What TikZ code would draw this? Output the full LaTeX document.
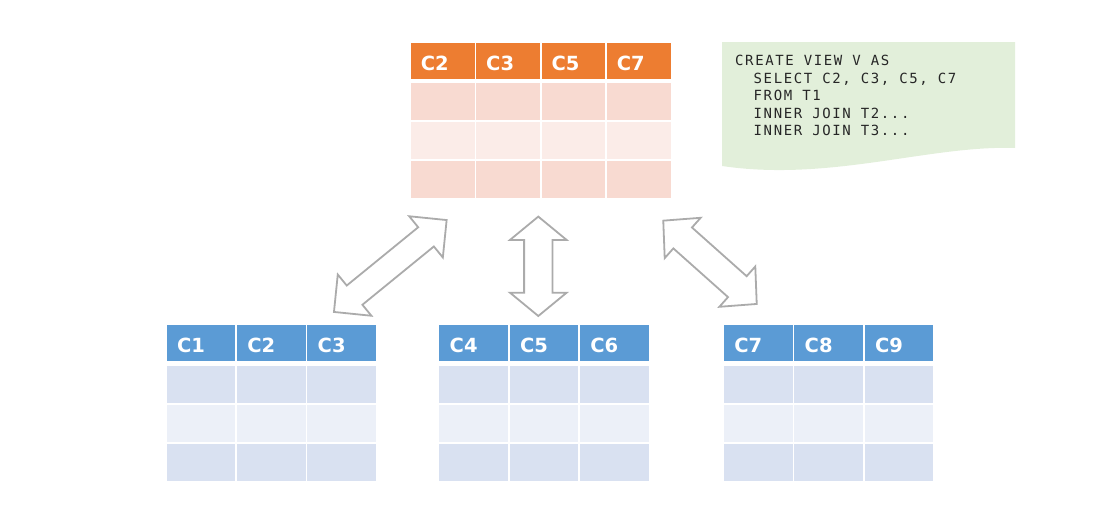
\documentclass[tikz,border=0pt]{standalone}
\usepackage{fontspec}
\setsansfont{DejaVu Sans}
\newfontfamily\sqlfont[LetterSpace=11.5]{DejaVu Sans Mono}
\usetikzlibrary{positioning}

\definecolor{viewhead}{HTML}{ED7D31}
\definecolor{viewrowa}{HTML}{F8DAD1}
\definecolor{viewrowb}{HTML}{FBECE8}
\definecolor{basehead}{HTML}{5B9BD5}
\definecolor{baserowa}{HTML}{D9E1F1}
\definecolor{baserowb}{HTML}{ECF0F8}
\definecolor{sqlgreen}{HTML}{E2EFDA}
\definecolor{arrowgray}{HTML}{ABABAB}

\tikzset{
  pics/dblarrow/.style args={#1/#2/#3/#4}{code={
    \draw[block arrow] (-#1,0) -- (-#1+#4,#3) -- (-#1+#4,#2) -- (#1-#4,#2) -- (#1-#4,#3)
      -- (#1,0) -- (#1-#4,-#3) -- (#1-#4,-#2) -- (-#1+#4,-#2) -- (-#1+#4,-#3) -- cycle;
  }}
}

\begin{document}
\begin{tikzpicture}[x=1pt,y=-1pt]
    \tikzstyle{cell}=[rectangle,draw=white,line width=1.6pt,inner sep=0pt,outer sep=0pt]
    \tikzstyle{view cell}=[cell,minimum width=65.3pt];
    \tikzstyle{base cell}=[cell,minimum width=70.3pt];
    \tikzstyle{head row}=[minimum height=38pt];
    \tikzstyle{body row}=[minimum height=39pt];
    \tikzstyle{head}=[anchor=west,inner sep=0pt,text=white,font=\sffamily\bfseries\fontsize{19.5}{19.5}\selectfont]
    \tikzstyle{block arrow}=[draw=arrowgray,line width=1.8pt,fill=white,line join=miter]
    \tikzstyle{sql}=[anchor=north west,inner sep=0pt,align=left,text=black!85,font=\sqlfont\fontsize{14}{17.5}\selectfont]

    \useasboundingbox (0,0) rectangle (1093,520);

    % view V
    \foreach \name [count=\i] in {C2,C3,C5,C7} {
        \node[view cell,head row,fill=viewhead] (V-h\i) at ({410.2+65.3*(\i-0.5)},60.9) {};
        \node[head] (V-l\i) at ([xshift=10.5pt,yshift=-2pt]V-h\i.west) {\name};
        \foreach \j/\shade in {1/viewrowa,2/viewrowb,3/viewrowa}
            \node[view cell,body row,fill=\shade] (V-\j-\i) at ({410.2+65.3*(\i-0.5)},{81.9+39*(\j-0.5)}) {};
    }

    % base tables T1, T2, T3
    \foreach \t/\x/\names in {T1/165.9/{C1,C2,C3},T2/438.5/{C4,C5,C6},T3/723.2/{C7,C8,C9}} {
        \foreach \name [count=\i] in \names {
            \node[base cell,head row,fill=basehead] (\t-h\i) at ({\x+70.3*(\i-0.5)},343.2) {};
            \node[head] (\t-l\i) at ([xshift=11pt,yshift=-2pt]\t-h\i.west) {\name};
            \foreach \j/\shade in {1/baserowa,2/baserowb,3/baserowa}
                \node[base cell,body row,fill=\shade] (\t-\j-\i) at ({\x+70.3*(\i-0.5)},{364.7+39*(\j-0.5)}) {};
        }
    }

    % view definition
    \fill[sqlgreen] (722,42) -- (1015,42) -- (1015,148)
        .. controls (930,145) and (830,182) .. (722,166) -- cycle;
    \node[sql] (query) at (735,55) {CREATE VIEW V AS\\
        \phantom{AA}SELECT C2, C3, C5, C7\\
        \phantom{AA}FROM T1\\
        \phantom{AA}INNER JOIN T2...\\
        \phantom{AA}INNER JOIN T3...};

    % arrows
    \pic[rotate=39.2] (arrT1) at (390.3,266) {dblarrow=72.7/12.4/26.6/26.6};
    \pic[rotate=90] (arrT2) at (538.3,266.3) {dblarrow=49.7/14.2/28.3/23.3};
    \pic[rotate=-41.7] (arrT3) at (710,262.3) {dblarrow=62.6/14/27/26};
\end{tikzpicture}
\end{document}
